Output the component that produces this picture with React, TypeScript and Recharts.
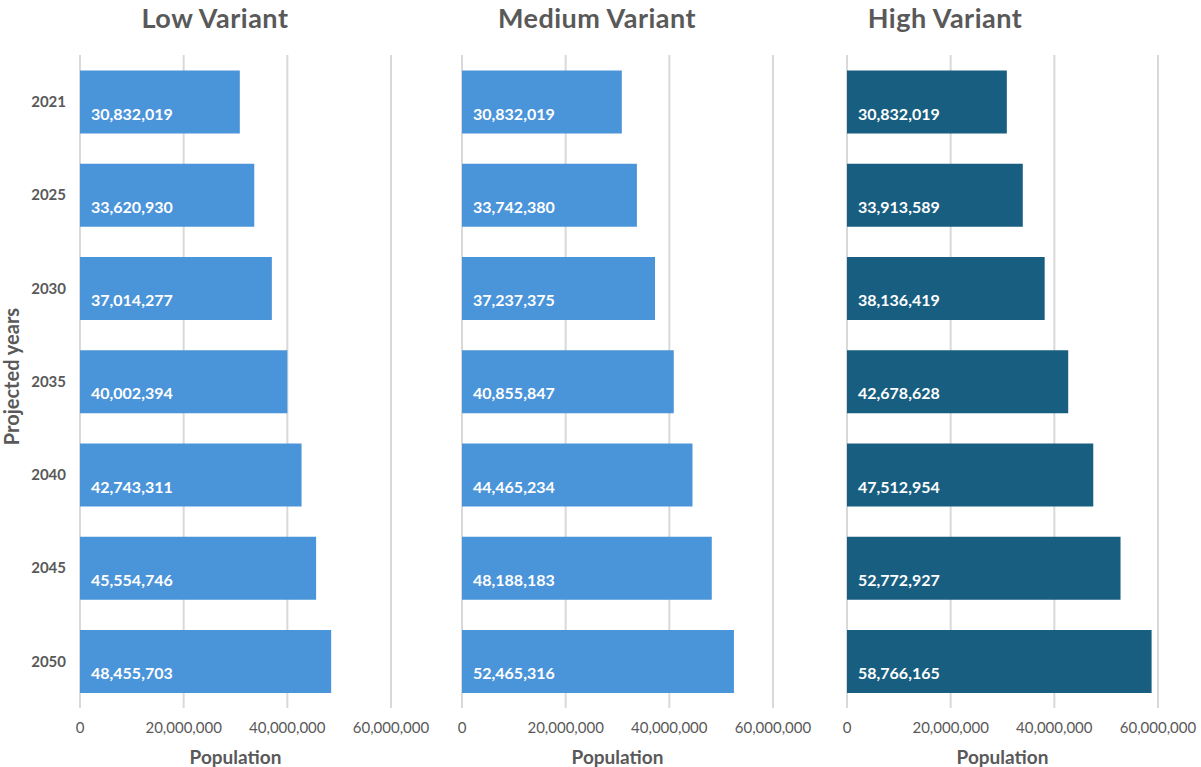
import { Bar, BarChart, CartesianGrid, XAxis, YAxis, LabelList } from "recharts"

const years = ["2021", "2025", "2030", "2035", "2040", "2045", "2050"]
const lowVariant = [30832019, 33620930, 37014277, 40002394, 42743311, 45554746, 48455703]
const mediumVariant = [30832019, 33742380, 37237375, 40855847, 44465234, 48188183, 52465316]
const highVariant = [30832019, 33913589, 38136419, 42678628, 47512954, 52772927, 58766165]
const xTicks = [0, 20000000, 40000000, 60000000]

const FONT = "'Century Gothic', Lato, 'DejaVu Sans', sans-serif"
const GREY = "#595959"

const fmt = (v: number) => Number(v).toLocaleString("en-US")

interface PanelProps {
  title: string
  values: number[]
  color: string
  left: number
  width: number
  marginLeft: number
  marginRight: number
  showYAxis: boolean
  titleCenter: number
}

function Panel({ title, values, color, left, width, marginLeft, marginRight, showYAxis, titleCenter }: PanelProps) {
  const data = years.map((year, i) => ({ year, value: values[i] }))
  return (
    <div style={{ position: "absolute", left, top: 0, width, height: 767 }}>
      <div
        style={{
          position: "absolute",
          left: titleCenter - 150,
          width: 300,
          top: 1,
          textAlign: "center",
          fontFamily: FONT,
          fontWeight: 700,
          fontSize: 27,
          letterSpacing: 0.5,
          color: GREY,
        }}
      >
        {title}
      </div>
      <BarChart
        width={width}
        height={767}
        data={data}
        layout="vertical"
        barCategoryGap="16.5%"
        margin={{ top: 55, right: marginRight, bottom: 0, left: marginLeft }}
        style={{ fontFamily: FONT }}
      >
        <CartesianGrid horizontal={false} stroke="#d9d9d9" strokeWidth={2} />
        <XAxis
          type="number"
          domain={[0, 60000000]}
          ticks={xTicks}
          tickFormatter={fmt}
          axisLine={false}
          tickLine={false}
          tickSize={0}
          tickMargin={14}
          height={59}
          interval={0}
          tick={{ fill: GREY, fontSize: 15 }}
          label={{ value: "Population", position: "insideBottom", offset: 3, fill: GREY, fontSize: 19, fontWeight: 700 }}
        />
        <YAxis
          type="category"
          dataKey="year"
          hide={!showYAxis}
          width={showYAxis ? 80 : 0}
          axisLine={false}
          tickLine={false}
          tickSize={0}
          tickMargin={14}
          tick={{ fill: GREY, fontSize: 15, fontWeight: 700 }}
          label={{ value: "Projected years", angle: -90, position: "insideLeft", offset: 12, dy: -5, fill: GREY, fontSize: 20, fontWeight: 700, style: { textAnchor: "middle" } }}
        />
        <Bar dataKey="value" fill={color} isAnimationActive={false}>
          <LabelList
            dataKey="value"
            position="insideLeft"
            offset={11}
            dy={12}
            formatter={(v: any) => fmt(v)}
            fill="#ffffff"
            fontSize={16}
            fontWeight={700}
          />
        </Bar>
      </BarChart>
    </div>
  )
}

export default function App() {
  return (
    <div style={{ position: "absolute", left: 0, top: 0, width: 1201, height: 767, background: "#ffffff", overflow: "hidden" }}>
      <Panel title="Low Variant" values={lowVariant} color="#4A94DA" left={0} width={440} marginLeft={0} marginRight={49} showYAxis titleCenter={215} />
      <Panel title="Medium Variant" values={mediumVariant} color="#4A94DA" left={400} width={423} marginLeft={62} marginRight={50} showYAxis={false} titleCenter={197} />
      <Panel title="High Variant" values={highVariant} color="#175E80" left={785} width={416} marginLeft={62} marginRight={43} showYAxis={false} titleCenter={160} />
    </div>
  )
}
